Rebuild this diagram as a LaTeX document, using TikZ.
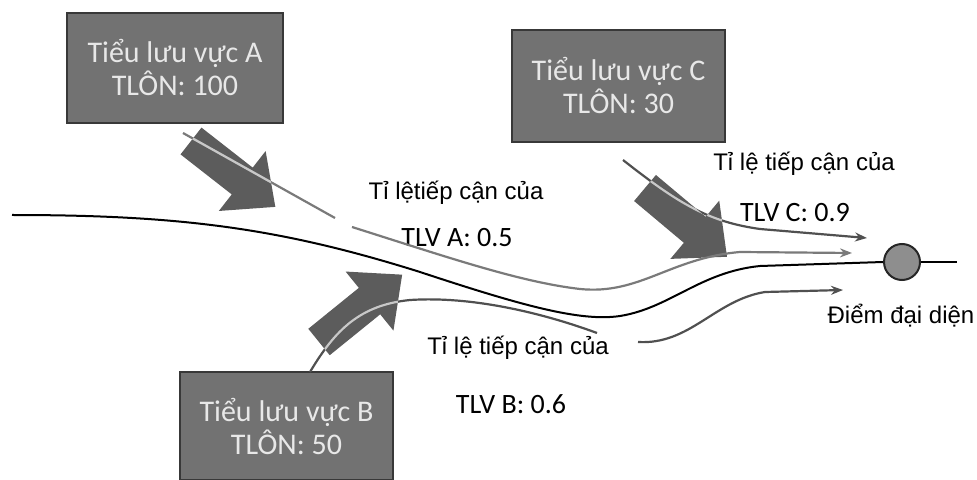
\documentclass[tikz,border=0pt]{standalone}
\usepackage{fontspec}
\setmainfont{Liberation Sans}
\newfontfamily\basinfont{Carlito}
\usepackage{tikz}
\usetikzlibrary{arrows.meta, calc}
\definecolor{basingray}{HTML}{727272}
\definecolor{basinedge}{HTML}{383838}
\definecolor{basintext}{HTML}{E8E8E8}
\definecolor{fatgray}{HTML}{5C5C5C}
\definecolor{flowgray}{HTML}{7A7A7A}
\definecolor{flowdark}{HTML}{505050}
\definecolor{flowlight}{HTML}{C8C8C8}
\definecolor{outletgray}{HTML}{8E8E8E}

\tikzset{
  basin/.style={fill=basingray, draw=basinedge, line width=1pt, text=basintext,
    font=\basinfont\fontsize{15}{16.5}\selectfont, align=center, inner sep=0pt},
  ratio/.style={font=\fontsize{12}{14}\selectfont, inner sep=0pt},
  ratioval/.style={font=\basinfont\fontsize{14}{16}\selectfont, inner sep=0pt},
  river/.style={draw=black, line width=1pt},
  flow/.style={draw=flowgray, line width=1.1pt},
  flowtip/.style={-{Stealth[length=6pt, width=4.5pt]}},
  flowhi/.style={draw=flowlight, line width=1.1pt},
}
% fat arrow outline, tail at the origin, pointing along x
\newcommand{\fatpath}{(0,-17) -- (65,-17) -- (65,-38) -- (107,0) -- (65,38) -- (65,17) -- (0,17) -- cycle}

\begin{document}
\begin{tikzpicture}[x=0.5pt, y=-0.5pt]
  \useasboundingbox (0,0) rectangle (977,480);

  % sub-basins
  \node[basin, minimum width=108pt, minimum height=55pt] (basinA) at (175,68) {Tiểu lưu vực A\\TLÔN: 100};
  \node[basin, minimum width=106.5pt, minimum height=56pt] (basinC) at (618.5,86) {Tiểu lưu vực C\\TLÔN: 30};
  \node[basin, minimum width=106.5pt, minimum height=54pt] (basinB) at (286.5,426) {Tiểu lưu vực B\\TLÔN: 50};

  % outlet
  \node[circle, draw=black!85, fill=outletgray, line width=1pt, minimum size=18pt, inner sep=0pt] (outlet) at (902,262) {};
  \node[ratio] (outletlabel) at (901,316) {Điểm đại diện};

  % labels
  \node[ratio] (ratioA) at (456,193) {Tỉ lệtiếp cận của};
  \node[ratioval] (valA) at (457,238) {TLV A: 0.5};
  \node[ratio] (ratioC) at (804,164) {Tỉ lệ tiếp cận của};
  \node[ratioval] (valC) at (795,213) {TLV C: 0.9};
  \node[ratio] (ratioB) at (518,348) {Tỉ lệ tiếp cận của};
  \node[ratioval] (valB) at (511,404) {TLV B: 0.6};

  % flow ends
  \coordinate (riverS) at (12,215);
  \coordinate (riverE) at (957,262);
  \coordinate (aS) at (183,133);
  \coordinate (aG1) at (335,218);
  \coordinate (aG2) at (352,227);
  \coordinate (aE) at (852,253);
  \coordinate (bS) at (310,372);
  \coordinate (bG1) at (597,333);
  \coordinate (bG2) at (638,342);
  \coordinate (bE) at (843,290);
  \coordinate (cS) at (623,160);
  \coordinate (cE) at (867,238);

  % inflow arrows
  \foreach \p/\a in {{(191,141)}/-38, {(319,342)}/39, {(645,188)}/-40}
    \fill[fatgray, shift=\p, rotate=\a] \fatpath;

  % main river
  \draw[river] (riverS) .. controls (180,215) and (280,228) .. (420,272)
    .. controls (520,305) and (580,322) .. (620,316)
    .. controls (670,308) and (700,272) .. (760,266) -- (outlet.west);
  \draw[river] (outlet.east) -- (riverE);

  % routed flows
  \draw[flow] (aS) -- (aG1);
  \draw[flow, flowtip] (aG2) .. controls (450,258) and (520,282) .. (580,289)
    .. controls (640,295) and (670,258) .. (740,252) -- (aE);
  \draw[flow, draw=flowdark] (bS) .. controls (335,330) and (360,305) .. (410,300)
    .. controls (470,296) and (540,312) .. (bG1);
  \draw[flow, draw=flowdark, flowtip] (bG2) .. controls (690,345) and (715,300) .. (765,292) -- (bE);
  \draw[flow, draw=flowdark, flowtip] (cS) .. controls (680,205) and (710,222) .. (760,229) -- (cE);

  % flows seen on the arrows
  \begin{scope}
    \clip[shift={(191,141)}, rotate=-38] \fatpath;
    \draw[flowhi] (aS) -- (aG1);
  \end{scope}
  \begin{scope}
    \clip[shift={(319,342)}, rotate=39] \fatpath;
    \draw[flowhi] (bS) .. controls (335,330) and (360,305) .. (410,300);
  \end{scope}
  \begin{scope}
    \clip[shift={(645,188)}, rotate=-40] \fatpath;
    \draw[flowhi] (cS) .. controls (680,205) and (710,222) .. (760,229);
  \end{scope}
\end{tikzpicture}
\end{document}
